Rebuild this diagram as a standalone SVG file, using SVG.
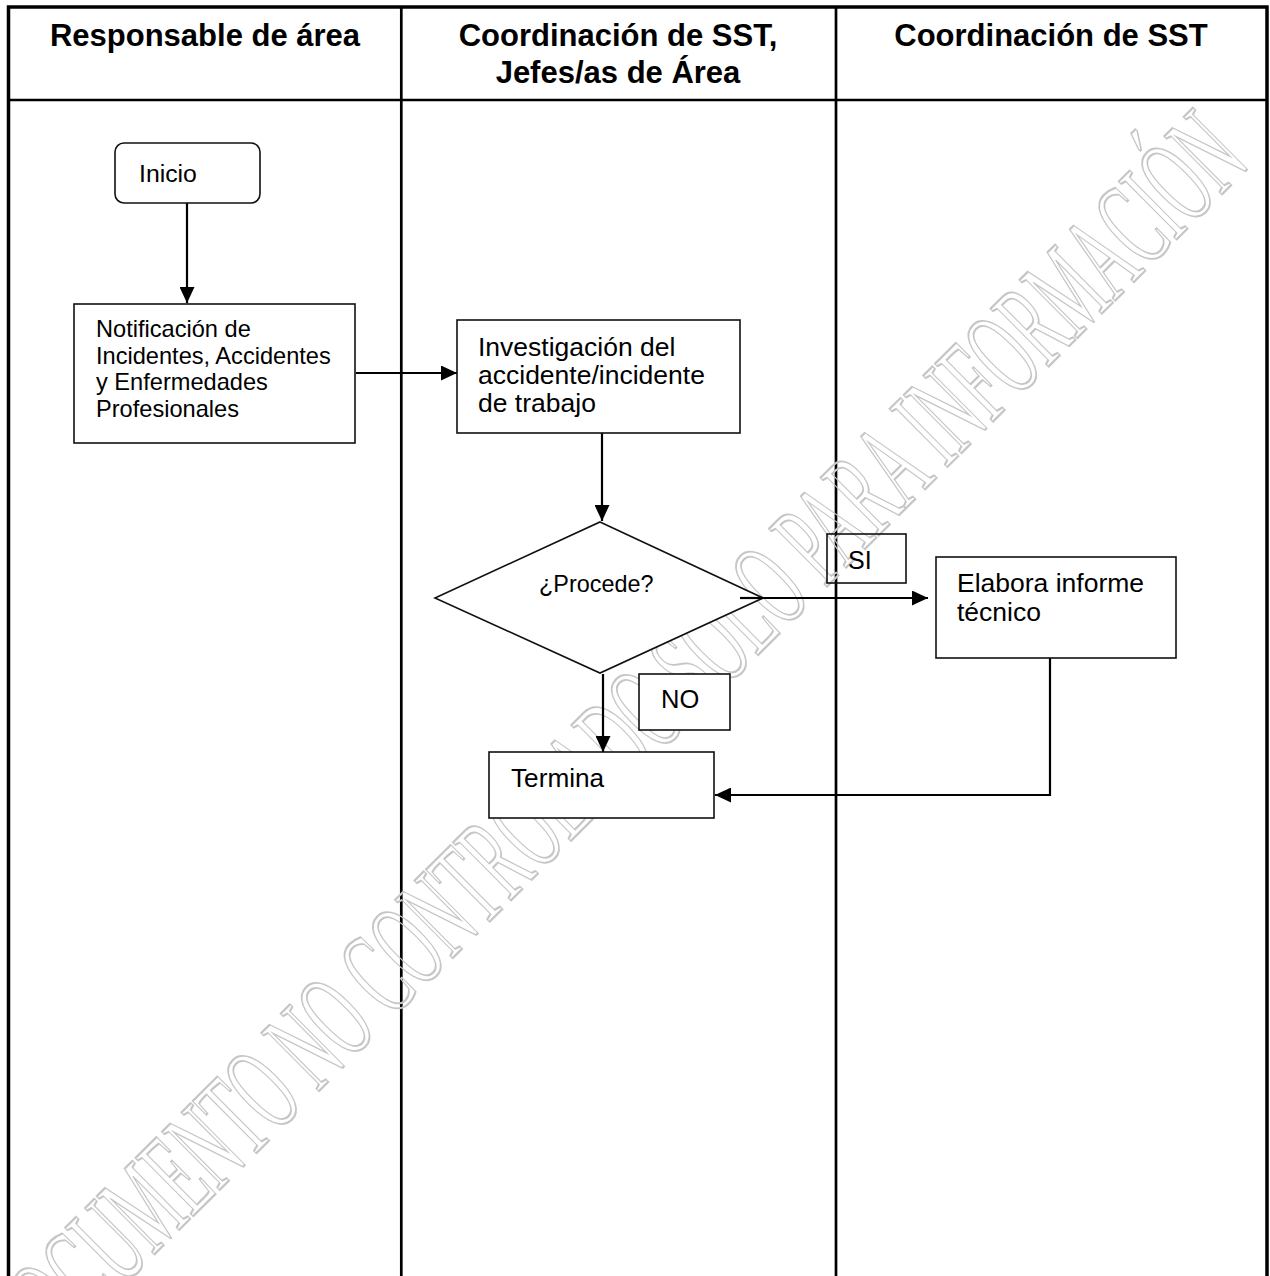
<svg xmlns="http://www.w3.org/2000/svg" width="1270" height="1276" viewBox="0 0 1270 1276">
  <defs>
    <marker id="arrow" markerUnits="userSpaceOnUse" markerWidth="16" markerHeight="15" refX="16" refY="7.5" orient="auto">
      <path d="M0,0 L16,7.5 L0,15 Z" fill="#000"/>
    </marker>
  </defs>
  <style>
    .frame { stroke: #000; fill: none; }
    .head { font-family: "Liberation Sans", Arial, sans-serif; font-weight: bold; font-size: 31px; fill: #000; text-anchor: middle; }
    .lbl { font-family: "Liberation Sans", Arial, sans-serif; fill: #000; }
    .box { fill: #fff; stroke: #111; stroke-width: 1.6; }
    .conn { fill: none; stroke: #000; stroke-width: 2.2; }
    .wm { font-family: "Liberation Serif", "Times New Roman", serif; font-size: 125px; fill: none; stroke: #c6c6c6; stroke-width: 2.2; }
  </style>
  <rect width="1270" height="1276" fill="#fff"/>

  <g id="table">
    <path class="frame" stroke-width="3.5" d="M8.5,1276 L8.5,7 L1267,7 L1267,1276"/>
    <path class="frame" stroke-width="2.7" d="M8.5,100 L1267,100 M401.3,7 L401.3,1276 M836,7 L836,1276"/>
    <text class="head" x="205" y="46">Responsable de área</text>
    <text class="head" x="618" y="46">Coordinación de SST,</text>
    <text class="head" x="618" y="83">Jefes/as de Área</text>
    <text class="head" x="1051" y="46">Coordinación de SST</text>
  </g>

  <g id="watermark">
    <text class="wm" transform="translate(30,1378) rotate(-44.8)" x="0" y="0" textLength="1722" lengthAdjust="spacingAndGlyphs">DOCUMENTO NO CONTROLADO SOLO PARA INFORMACIÓN</text>
  </g>

  <g id="connectors">
    <line class="conn" x1="187" y1="203" x2="187" y2="303" marker-end="url(#arrow)"/>
    <line class="conn" x1="356" y1="373" x2="457" y2="373" marker-end="url(#arrow)"/>
    <line class="conn" x1="602" y1="433" x2="602" y2="521" marker-end="url(#arrow)"/>
    <line class="conn" x1="740" y1="598" x2="928" y2="598" marker-end="url(#arrow)"/>
    <line class="conn" x1="603" y1="674" x2="603" y2="752" marker-end="url(#arrow)"/>
    <polyline class="conn" points="1050,658 1050,795 715,795" marker-end="url(#arrow)"/>
  </g>

  <g id="inicio">
    <rect class="box" x="115" y="143" width="145" height="60" rx="9" ry="9"/>
    <text class="lbl" x="139" y="182" font-size="24.8">Inicio</text>
  </g>

  <g id="notificacion">
    <rect class="box" x="74" y="304" width="281" height="139"/>
    <text class="lbl" font-size="23.6">
      <tspan x="96" y="337">Notificación de</tspan>
      <tspan x="96" y="363.5">Incidentes, Accidentes</tspan>
      <tspan x="96" y="390">y Enfermedades</tspan>
      <tspan x="96" y="416.5">Profesionales</tspan>
    </text>
  </g>

  <g id="investigacion">
    <rect class="box" x="457" y="320" width="283" height="113"/>
    <text class="lbl" font-size="26.5">
      <tspan x="478" y="356">Investigación del</tspan>
      <tspan x="478" y="384">accidente/incidente</tspan>
      <tspan x="478" y="412">de trabajo</tspan>
    </text>
  </g>

  <g id="procede">
    <polygon class="box" points="600,522 763,598 600,673 435,598"/>
    <line class="conn" x1="740" y1="598" x2="763" y2="598"/>
    <text class="lbl" x="539" y="592" font-size="23.4">¿Procede?</text>
  </g>

  <g id="si">
    <rect x="827" y="534" width="79" height="49" fill="none" stroke="#111" stroke-width="1.6"/>
    <text class="lbl" x="848" y="569" font-size="25">SI</text>
  </g>

  <g id="no">
    <rect class="box" x="639" y="674" width="91" height="56"/>
    <text class="lbl" x="661" y="708" font-size="25.5">NO</text>
  </g>

  <g id="elabora">
    <rect class="box" x="936" y="557" width="240" height="101"/>
    <text class="lbl" font-size="26.5">
      <tspan x="957" y="592">Elabora informe</tspan>
      <tspan x="957" y="621">técnico</tspan>
    </text>
  </g>

  <g id="termina">
    <rect class="box" x="489" y="752" width="225" height="66"/>
    <text class="lbl" x="511" y="787" font-size="26.2">Termina</text>
  </g>
</svg>
